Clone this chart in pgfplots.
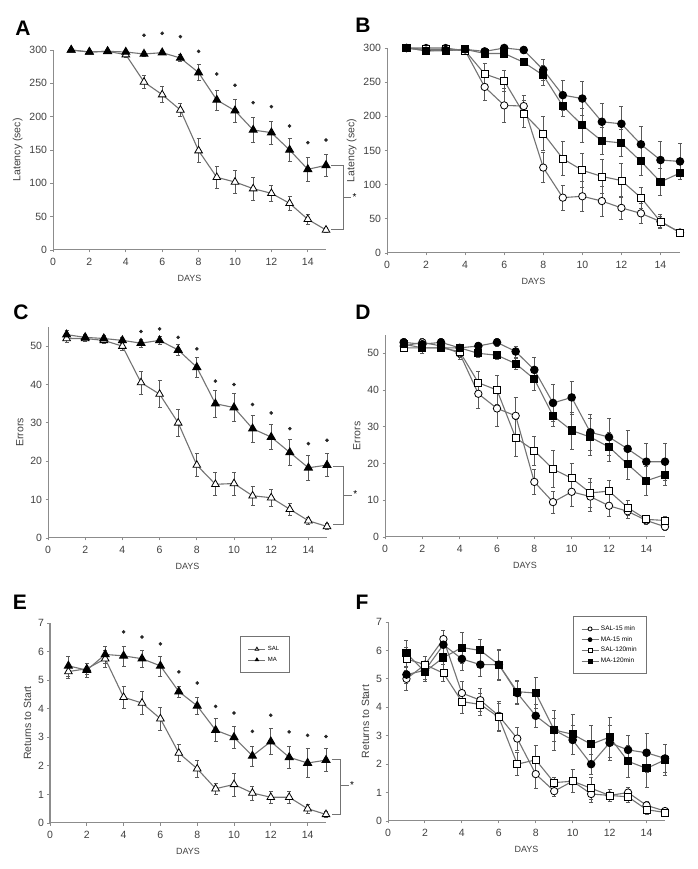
\documentclass[border=0pt]{standalone}
\usepackage{fontspec}
\setmainfont{Liberation Sans}
\usepackage{pgfplots}
\pgfplotsset{compat=1.18}
\usepackage{pgfplotstable}

\pgfplotstableread{
x sal esal ma ema
1 300 0 300 0
2 297 2 297 2
3 298 2 298 2
4 293 4 297 3
5 252 10 294 4
6 233 12 296 3
7 210 10 288 5
8 149 18 266 12
9 109 17 225 15
10 102 17 209 17
11 92 17 180 19
12 85 12 176 17
13 70 10 150 17
14 46 8 121 18
15 30 4 127 16
}\tA
\pgfplotstableread{
x y
5 322
6 325
7 320
8 298
9 264
10 247
11 221
12 215
13 186
14 161
15 165
}\sA
\pgfplotstableread{
x s15 es15 m15 em15 s120 es120 m120 em120
1 300 2 300 2 300 2 300 2
2 300 3 296 3 298 3 296 3
3 300 3 297 3 298 3 296 3
4 296 3 298 3 296 3 298 3
5 243 20 295 5 262 15 292 5
6 216 25 300 4 252 15 292 5
7 215 15 297 5 204 20 279 5
8 125 22 268 15 175 25 260 15
9 81 18 231 22 138 25 215 15
10 83 22 226 25 121 25 187 25
11 76 22 192 27 112 25 164 20
12 66 17 189 25 106 25 161 20
13 58 15 159 27 81 15 134 20
14 46 10 136 27 46 8 104 20
15 30 5 134 26 30 5 117 5
}\tB
\pgfplotstableread{
x sal esal ma ema
1 52 1 53 1
2 52 0.8 52.3 0.8
3 51.5 0.8 52 0.8
4 50 1 51.5 0.8
5 40.5 3 50.8 1
6 37.5 3.5 51.5 1
7 30 3.5 49 1.5
8 19 3 44.5 2.5
9 14 3 35 3.5
10 14.2 3 34 3.7
11 11 2.5 28.5 3.5
12 10.5 2.3 26.3 3.3
13 7.5 1.5 22.3 3.3
14 4.5 1 18.3 3.2
15 3 0.8 19 3
}\tC
\pgfplotstableread{
x y
5 53.8
6 54.5
7 52.3
8 49.3
9 40.9
10 40
11 34.8
12 32.6
13 28.5
14 24.6
15 25.5
}\sC
\pgfplotstableread{
x s15 es15 m15 em15 s120 es120 m120 em120
1 52 1 53 1 51.5 1 52.5 1
2 53 1 52.5 1.5 51.5 1.5 51.5 1.5
3 52 1 53 1 51.5 1 51.5 1
4 50 1.5 51.5 1 50.5 1.5 51.5 1
5 39 4 52 1 42 3 50 1
6 35 5 53 1 40 4 49.5 1
7 33 5 50.5 1.5 27 5 47.2 1.5
8 15 3.5 45.5 3.5 23.5 4 43 3
9 9.5 3 36.5 5 18.5 5 33 3
10 12.3 4 38 4.5 16 4 29 5
11 11 4 28.5 5 12 4 27.2 5
12 8.5 3 27.2 5 12.5 3 24.5 4
13 7 2 24 5 8 2 19.8 4
14 4.5 1 20.5 5 4.8 1 15.3 4
15 2.8 1 20.5 5 4.5 1 17 3
}\tD
\pgfplotstableread{
x sal esal ma ema
1 5.3 0.25 5.5 0.35
2 5.4 0.2 5.35 0.25
3 5.75 0.3 5.9 0.3
4 4.4 0.4 5.85 0.35
5 4.2 0.4 5.75 0.3
6 3.65 0.4 5.5 0.35
7 2.45 0.3 4.6 0.2
8 1.9 0.3 4.1 0.3
9 1.2 0.2 3.25 0.4
10 1.35 0.4 3.0 0.4
11 1.05 0.25 2.35 0.35
12 0.9 0.2 2.85 0.45
13 0.9 0.2 2.3 0.4
14 0.5 0.15 2.1 0.5
15 0.3 0.1 2.2 0.4
}\tE
\pgfplotstableread{
x y
4 6.69
5 6.51
6 6.27
7 5.29
8 4.9
9 4.08
10 3.85
11 3.21
12 3.77
13 3.19
14 3.07
15 3.03
}\sE
\pgfplotstableread{
x s15 es15 m15 em15 s120 es120 m120 em120
1 5.0 0.4 5.15 0.3 5.7 0.4 5.9 0.45
2 5.5 0.3 5.3 0.3 5.5 0.3 5.25 0.35
3 6.4 0.3 6.2 0.3 5.2 0.3 5.75 0.4
4 4.5 0.4 5.7 0.4 4.2 0.4 6.1 0.55
5 4.25 0.4 5.5 0.4 4.1 0.4 6.0 0.4
6 3.7 0.5 5.5 0.5 3.65 0.5 5.5 0.55
7 2.9 0.4 4.5 0.4 2.0 0.4 4.55 0.4
8 1.65 0.5 3.7 0.4 2.15 0.5 4.5 0.55
9 1.05 0.2 3.2 0.4 1.35 0.2 3.2 0.7
10 1.4 0.4 2.85 0.5 1.4 0.4 3.05 0.7
11 0.95 0.3 2.0 0.35 1.15 0.4 2.7 0.65
12 0.9 0.2 2.75 0.6 0.9 0.2 2.95 0.7
13 1.0 0.2 2.5 0.5 0.85 0.2 2.1 0.55
14 0.55 0.15 2.4 0.7 0.4 0.15 1.85 0.65
15 0.35 0.1 2.2 0.5 0.3 0.1 2.15 0.55
}\tF

\tikzset{brk/.style={draw=black!55, line width=1pt}}

\pgfplotsset{
  panel/.style={
    scale only axis, anchor=origin, xmin=0, xmax=15, ymin=0,
    axis x line*=bottom, axis y line*=left,
    axis line style={draw=black!45, line width=1pt},
    xtick={0,2,...,14}, tick align=outside, major tick length=2.5pt,
    tick style={black!45, line width=0.9pt},
    ticklabel style={font=\fontsize{10.5}{10.5}\selectfont, text=black!75},
    xticklabel style={yshift=-2pt},
    /pgf/number format/assume math mode=true,
    xlabel=DAYS, xlabel style={font=\fontsize{9}{9}\selectfont, text=black!75, yshift=-3pt},
    ylabel style={font=\fontsize{10.5}{10.5}\selectfont, text=black!75},
    clip=false,
    legend image code/.code={\draw[mark repeat=2,mark phase=2,##1,mark size=2pt,line width=0.7pt] plot coordinates {(0cm,0cm) (0.3cm,0cm) (0.6cm,0cm)};},
  },
  base/.style={draw=black!55, line width=1.1pt},
  errs/.style={error bars/.cd, y dir=both, y explicit,
    error bar style={black!65, line width=0.7pt, solid},
    error mark options={rotate=90, mark size=2pt, black!65, line width=0.7pt}},
  salS/.style={base, mark=triangle*, mark size=4.4pt, mark options={fill=white, draw=black, line width=0.8pt}},
  maS/.style={base, mark=triangle*, mark size=4.4pt, mark options={fill=black, draw=black}},
  s15S/.style={base, mark=*, mark size=3.7pt, mark options={fill=white, draw=black, line width=0.8pt}},
  m15S/.style={base, mark=*, mark size=3.7pt, mark options={fill=black, draw=black}},
  s120S/.style={base, mark=square*, mark size=3.5pt, mark options={fill=white, draw=black, line width=0.8pt}},
  m120S/.style={base, mark=square*, mark size=3.5pt, mark options={fill=black, draw=black}},
  starS/.style={only marks, mark=*, mark size=1.6pt, black!85, forget plot},
}

\begin{document}
\begin{tikzpicture}
\useasboundingbox (0,0) rectangle (697pt,869pt);

% ---------------- A ----------------
\begin{axis}[panel, at={(53pt,619pt)}, width=273pt, height=200pt, ymax=300, ytick={0,50,...,300},
  ylabel={Latency (sec)}]
\addplot[salS, errs] table[x=x, y=sal, y error=esal] {\tA};
\addplot[maS, errs] table[x=x, y=ma, y error=ema] {\tA};
\addplot[starS] table[x=x, y=y] {\sA};
\draw[brk] (axis cs:15.3,127) -- (axis cs:15.95,127) -- (axis cs:15.95,30) -- (axis cs:15.3,30);
\draw[brk] (axis cs:15.95,78.5) -- (axis cs:16.4,78.5);
\node[anchor=west, inner sep=1pt, font=\fontsize{10}{10}\selectfont] at (axis cs:16.4,80) {*};
\end{axis}

% ---------------- B ----------------
\begin{axis}[panel, at={(387pt,616pt)}, width=293pt, height=205pt, ymax=300, ytick={0,50,...,300},
  ylabel={Latency (sec)}]
\addplot[s15S, errs] table[x=x, y=s15, y error=es15] {\tB};
\addplot[s120S, errs] table[x=x, y=s120, y error=es120] {\tB};
\addplot[m15S, errs] table[x=x, y=m15, y error=em15] {\tB};
\addplot[m120S, errs] table[x=x, y=m120, y error=em120] {\tB};
\end{axis}

% ---------------- C ----------------
\begin{axis}[panel, at={(48pt,331pt)}, width=279pt, height=211pt, ymax=55, ytick={0,10,...,50},
  ylabel={Errors}]
\addplot[salS, errs] table[x=x, y=sal, y error=esal] {\tC};
\addplot[maS, errs] table[x=x, y=ma, y error=ema] {\tC};
\addplot[starS] table[x=x, y=y] {\sC};
\draw[brk] (axis cs:15.3,18.7) -- (axis cs:15.9,18.7) -- (axis cs:15.9,3.5) -- (axis cs:15.3,3.5);
\draw[brk] (axis cs:15.9,11.1) -- (axis cs:16.35,11.1);
\node[anchor=west, inner sep=1pt, font=\fontsize{10}{10}\selectfont] at (axis cs:16.35,11.4) {*};
\end{axis}

% ---------------- D ----------------
\begin{axis}[panel, at={(385pt,332pt)}, width=280pt, height=202pt, ymax=55, ytick={0,10,...,50},
  ylabel={Errors}]
\addplot[s15S, errs] table[x=x, y=s15, y error=es15] {\tD};
\addplot[s120S, errs] table[x=x, y=s120, y error=es120] {\tD};
\addplot[m15S, errs] table[x=x, y=m15, y error=em15] {\tD};
\addplot[m120S, errs] table[x=x, y=m120, y error=em120] {\tD};
\end{axis}

% ---------------- E ----------------
\begin{axis}[panel, at={(50pt,46pt)}, width=276pt, height=200pt, ymax=7, ytick={0,1,...,7},
  ylabel={Returns to Start},
  legend style={at={(axis cs:10.3,6.55)}, anchor=north west, font=\fontsize{6}{7}\selectfont,
    draw=black!55, line width=1pt, inner xsep=8pt, inner ysep=8pt, row sep=1pt},
  legend cell align=left]
\addplot[salS, errs] table[x=x, y=sal, y error=esal] {\tE};
\addlegendentry{SAL}
\addplot[maS, errs] table[x=x, y=ma, y error=ema] {\tE};
\addlegendentry{MA}
\addplot[starS] table[x=x, y=y] {\sE};
\draw[brk] (axis cs:15.3,2.22) -- (axis cs:15.8,2.22) -- (axis cs:15.8,0.3) -- (axis cs:15.3,0.3);
\draw[brk] (axis cs:15.8,1.3) -- (axis cs:16.25,1.3);
\node[anchor=west, inner sep=1pt, font=\fontsize{10}{10}\selectfont] at (axis cs:16.25,1.33) {*};
\end{axis}

% ---------------- F ----------------
\begin{axis}[panel, at={(388pt,48pt)}, width=277pt, height=199pt, ymax=7, ytick={0,1,...,7},
  ylabel={Returns to Start},
  legend style={at={(axis cs:10.0,7.2)}, anchor=north west, font=\fontsize{6.5}{7.5}\selectfont,
    draw=black!55, line width=1pt, inner xsep=8pt, inner ysep=7pt, row sep=0.5pt},
  legend cell align=left]
\addplot[s15S, errs] table[x=x, y=s15, y error=es15] {\tF};
\addlegendentry{SAL-15 min}
\addplot[m15S, errs] table[x=x, y=m15, y error=em15] {\tF};
\addlegendentry{MA-15 min}
\addplot[s120S, errs] table[x=x, y=s120, y error=es120] {\tF};
\addlegendentry{SAL-120min}
\addplot[m120S, errs] table[x=x, y=m120, y error=em120] {\tF};
\addlegendentry{MA-120min}
\end{axis}

% panel letters
\node[font=\bfseries\fontsize{21}{21}\selectfont] at (23pt,841pt) {A};
\node[font=\bfseries\fontsize{21}{21}\selectfont] at (363pt,844pt) {B};
\node[font=\bfseries\fontsize{21}{21}\selectfont] at (21pt,557pt) {C};
\node[font=\bfseries\fontsize{21}{21}\selectfont] at (363pt,557pt) {D};
\node[font=\bfseries\fontsize{21}{21}\selectfont] at (20pt,267pt) {E};
\node[font=\bfseries\fontsize{21}{21}\selectfont] at (362pt,267pt) {F};
\end{tikzpicture}
\end{document}
